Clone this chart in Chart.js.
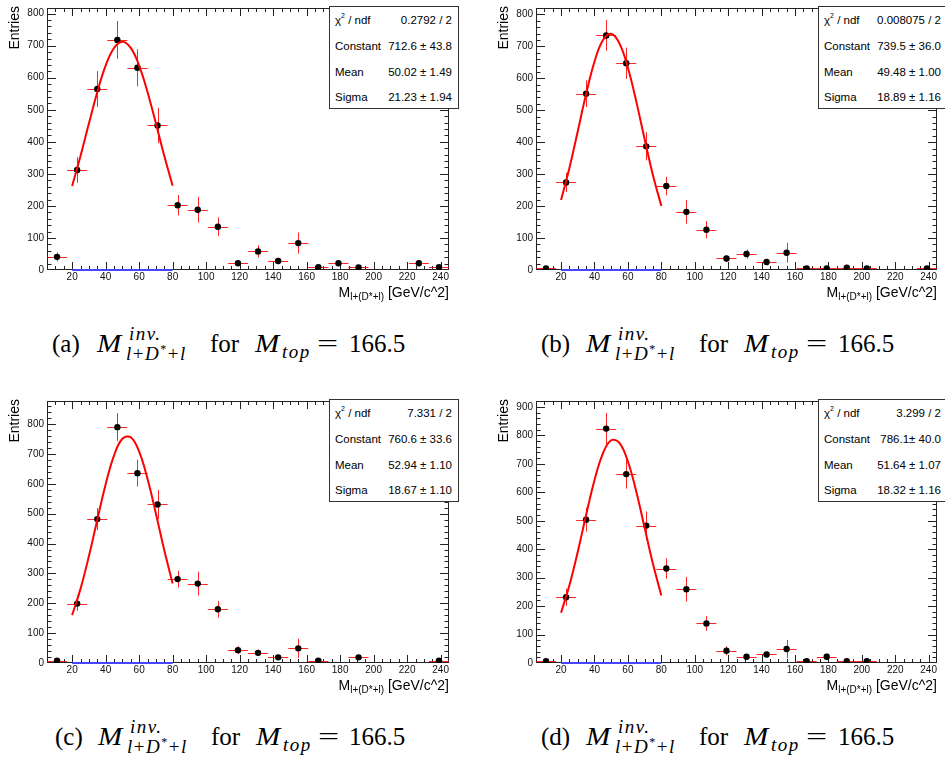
<!DOCTYPE html>
<html><head><meta charset="utf-8">
<script src="https://cdn.jsdelivr.net/npm/chart.js@4/dist/chart.umd.min.js"></script>
<style>
html,body{margin:0;padding:0;background:#fff;}
body{width:945px;height:762px;overflow:hidden;position:relative;font-family:"Liberation Sans",Arial,sans-serif;color:#000;}
canvas.panel{position:absolute;}
.stats{position:absolute;background:#fff;border:1px solid #333;box-sizing:border-box;width:130px;height:103px;font-size:11.5px;}
.row{position:absolute;left:5px;right:6px;height:14px;line-height:14px;display:flex;justify-content:space-between;white-space:nowrap;}
.row sup{font-size:7px;position:relative;top:-1px;vertical-align:top;line-height:7px;}
.ytitle{position:absolute;width:60px;height:16px;line-height:16px;font-size:14px;text-align:right;transform-origin:0 0;transform:rotate(-90deg);white-space:nowrap;}
.xtitle{position:absolute;width:449px;height:16px;line-height:16px;font-size:14px;text-align:right;white-space:nowrap;}
.xtitle .sb{font-size:10px;position:relative;top:3px;}
.cap{position:absolute;width:380px;height:40px;font-family:"Liberation Serif","DejaVu Serif",serif;white-space:nowrap;}
.cap span{position:absolute;}
.cap .m{font-size:25px;line-height:30px;}
.cap .s{font-size:19px;line-height:20px;letter-spacing:1.5px;}
.cap .s sup{font-size:12px;position:relative;top:-1px;vertical-align:top;line-height:12px;}
.cap .bigM{display:inline-block;font-size:26px;transform:scaleX(1.12);transform-origin:0 0;}
.cap .eq{display:inline-block;transform:scaleX(1.5);transform-origin:0 0;}
</style>
</head>
<body>
<canvas id="cA" class="panel" width="460" height="290" style="left:0;top:0"></canvas>
<canvas id="cB" class="panel" width="456" height="290" style="left:489px;top:0"></canvas>
<canvas id="cC" class="panel" width="460" height="290" style="left:0;top:393px"></canvas>
<canvas id="cD" class="panel" width="456" height="290" style="left:489px;top:393px"></canvas>

<div class="ytitle" style="left:6px;top:66px">Entries</div>
<div class="ytitle" style="left:495px;top:66px">Entries</div>
<div class="ytitle" style="left:6px;top:459px">Entries</div>
<div class="ytitle" style="left:495px;top:459px">Entries</div>

<div class="xtitle" style="left:0;top:284px">M<span class="sb">l+(D*+l)</span> [GeV/c^2]</div>
<div class="xtitle" style="left:488px;top:284px">M<span class="sb">l+(D*+l)</span> [GeV/c^2]</div>
<div class="xtitle" style="left:0;top:677px">M<span class="sb">l+(D*+l)</span> [GeV/c^2]</div>
<div class="xtitle" style="left:488px;top:677px">M<span class="sb">l+(D*+l)</span> [GeV/c^2]</div>

<div id="sA" class="stats" style="left:329px;top:6px"></div>
<div id="sB" class="stats" style="left:818px;top:6px"></div>
<div id="sC" class="stats" style="left:329px;top:399px"></div>
<div id="sD" class="stats" style="left:818px;top:399px"></div>

<div class="cap" style="left:52px;top:313px"><span class="m" style="left:0;top:16px">(a)</span><span class="m" style="left:45px;top:16px"><i class="bigM">M</i></span><span class="s" style="left:77px;top:11px"><i>inv.</i></span><span class="s" style="left:74px;top:31px"><i>l</i>+<i>D</i><sup>*</sup>+<i>l</i></span><span class="m" style="left:158px;top:16px">for</span><span class="m" style="left:203px;top:16px"><i class="bigM">M</i></span><span class="s" style="left:230px;top:29px"><i>top</i></span><span class="m" style="left:265px;top:16px"><span class="eq" style="position:static">=</span></span><span class="m" style="left:297px;top:16px">166.5</span></div>
<div class="cap" style="left:541px;top:313px"><span class="m" style="left:0;top:16px">(b)</span><span class="m" style="left:45px;top:16px"><i class="bigM">M</i></span><span class="s" style="left:77px;top:11px"><i>inv.</i></span><span class="s" style="left:74px;top:31px"><i>l</i>+<i>D</i><sup>*</sup>+<i>l</i></span><span class="m" style="left:158px;top:16px">for</span><span class="m" style="left:203px;top:16px"><i class="bigM">M</i></span><span class="s" style="left:230px;top:29px"><i>top</i></span><span class="m" style="left:265px;top:16px"><span class="eq" style="position:static">=</span></span><span class="m" style="left:297px;top:16px">166.5</span></div>
<div class="cap" style="left:55px;top:706px"><span class="m" style="left:0;top:16px">(c)</span><span class="m" style="left:43px;top:16px"><i class="bigM">M</i></span><span class="s" style="left:75px;top:11px"><i>inv.</i></span><span class="s" style="left:72px;top:31px"><i>l</i>+<i>D</i><sup>*</sup>+<i>l</i></span><span class="m" style="left:156px;top:16px">for</span><span class="m" style="left:201px;top:16px"><i class="bigM">M</i></span><span class="s" style="left:228px;top:29px"><i>top</i></span><span class="m" style="left:263px;top:16px"><span class="eq" style="position:static">=</span></span><span class="m" style="left:294px;top:16px">166.5</span></div>
<div class="cap" style="left:541px;top:706px"><span class="m" style="left:0;top:16px">(d)</span><span class="m" style="left:45px;top:16px"><i class="bigM">M</i></span><span class="s" style="left:77px;top:11px"><i>inv.</i></span><span class="s" style="left:74px;top:31px"><i>l</i>+<i>D</i><sup>*</sup>+<i>l</i></span><span class="m" style="left:158px;top:16px">for</span><span class="m" style="left:203px;top:16px"><i class="bigM">M</i></span><span class="s" style="left:230px;top:29px"><i>top</i></span><span class="m" style="left:265px;top:16px"><span class="eq" style="position:static">=</span></span><span class="m" style="left:297px;top:16px">166.5</span></div>

<script>
// ---- data ----
const binCenters = [11,23,35,47,59,71,83,95,107,119,131,143,155,167,179,191,203,215,227,239];
const binWidth = 12;

const countsA = [41,312,565,718,631,451,202,188,135,21,58,28,84,9,21,8,null,null,21,9];
const errorsA = [14,40,56,59,58,55,32,40,29,9,19,10,33,5,9,4,null,null,9,5];

const countsB = [5,274,552,734,647,387,263,182,126,36,50,25,54,5,5,7,5,null,null,5];
const errorsB = [3,30,42,48,49,44,29,37,27,11,14,10,31,3,3,4,3,null,null,3];

const countsC = [8,199,482,790,636,531,281,266,180,43,34,19,49,8,null,19,null,null,null,8];
const errorsC = [4,24,37,47,45,49,28,40,28,13,11,8,32,4,null,6,null,null,null,4];

const countsD = [6,231,504,824,664,483,332,259,139,43,22,30,49,6,22,6,6,null,null,null];
const errorsD = [4,30,42,55,51,50,36,43,26,16,8,11,32,4,12,4,4,null,null,null];

// Gaussian fit curves (read at these x positions)
const fitX = [20,25,30,35,40,45,50,55,60,65,70,75,80];
const fitA = [262.2,355.8,456.9,554.8,637.5,692.9,712.6,693.3,638.1,555.5,457.6,356.6,263.0];
const fitB = [218.8,319.3,434.5,551.2,652.0,719.0,739.2,708.6,633.2,527.7,409.9,296.9,200.5];
const fitC = [160.4,248.3,357.5,479.3,598.2,694.8,751.2,756.0,708.1,617.4,501.0,378.4,266.1];
const fitD = [176.9,273.1,391.2,520.4,642.4,736.1,783.0,773.0,708.4,602.6,475.8,348.6,237.2];

// axes
const xRange = [5,245];
const xTicks = [20,40,60,80,100,120,140,160,180,200,220,240];
const yTicksAB = [0,100,200,300,400,500,600,700,800];
const yTicksC = [0,100,200,300,400,500,600,700,800];
const yTicksD = [0,100,200,300,400,500,600,700,800,900];
const yMaxA = 817.6, yMaxB = 820, yMaxC = 877.6, yMaxD = 921;

// stats boxes
const statsA = ["0.2792 / 2","712.6 ± 43.8","50.02 ± 1.49","21.23 ± 1.94"];
const statsB = ["0.008075 / 2","739.5 ± 36.0","49.48 ± 1.00","18.89 ± 1.16"];
const statsC = ["7.331 / 2","760.6 ± 33.6","52.94 ± 1.10","18.67 ± 1.10"];
const statsD = ["3.299 / 2","786.1± 40.0","51.64 ± 1.07","18.32 ± 1.16"];
const statNames = ["χ<sup>2</sup> / ndf","Constant","Mean","Sigma"];

// ---- rendering ----
const rowTops = [6,32,57.5,83];
function fillStats(id, vals){
  const el = document.getElementById(id);
  el.innerHTML = statNames.map((n,i)=>`<div class="row" style="top:${rowTops[i]}px"><span>${n}</span><span>${vals[i]}</span></div>`).join('');
}
fillStats('sA',statsA); fillStats('sB',statsB); fillStats('sC',statsC); fillStats('sD',statsD);

const rootAxes = {
  id:'rootAxes',
  beforeDatasetsDraw(chart){
    const {ctx, chartArea:a, scales:{x,y}} = chart;
    const o = chart.options.plugins.rootAxes;
    ctx.save();
    ctx.strokeStyle = '#222'; ctx.lineWidth = 1;
    ctx.strokeRect(a.left+0.5, a.top+0.5, a.right-a.left-1, a.bottom-a.top-1);
    ctx.beginPath();
    for(let v=xRange[0]+5; v<xRange[1]; v+=5){
      const major = xTicks.includes(v);
      const L = major ? 8 : 4;
      const px = Math.round(x.getPixelForValue(v))+0.5;
      ctx.moveTo(px,a.bottom); ctx.lineTo(px,a.bottom-L);
      ctx.moveTo(px,a.top); ctx.lineTo(px,a.top+L);
    }
    for(let v=20; v<y.max; v+=20){
      const major = o.yTicks.includes(v);
      const L = major ? 9 : 4.5;
      const py = Math.round(y.getPixelForValue(v))+0.5;
      ctx.moveTo(a.left,py); ctx.lineTo(a.left+L,py);
      ctx.moveTo(a.right,py); ctx.lineTo(a.right-L,py);
    }
    ctx.stroke();
    ctx.beginPath();
    ctx.rect(a.left,a.top-2,a.right-a.left,a.bottom-a.top+2);
    ctx.clip();
    ctx.strokeStyle = 'rgba(255,0,0,0.85)';
    ctx.lineWidth = 1;
    ctx.beginPath();
    const pts = chart.data.datasets[2].data;
    pts.forEach(p=>{
      const px = Math.round(x.getPixelForValue(p.x))+0.5;
      const py = Math.round(y.getPixelForValue(p.y))+0.5;
      ctx.moveTo(px, y.getPixelForValue(p.y - p.e));
      ctx.lineTo(px, y.getPixelForValue(p.y + p.e));
      ctx.moveTo(x.getPixelForValue(p.x - binWidth/2), py);
      ctx.lineTo(x.getPixelForValue(p.x + binWidth/2), py);
    });
    ctx.stroke();
    ctx.restore();
  }
};

function makePanel(id, counts, errors, fit, yMax, yTicks){
  const points = [];
  binCenters.forEach((c,i)=>{ if(counts[i]!==null) points.push({x:c, y:counts[i], e:errors[i]}); });
  const tickFont = {family:'"Liberation Sans", Arial, sans-serif', size:10, lineHeight:1};
  new Chart(document.getElementById(id), {
    type:'scatter',
    data:{datasets:[
      {type:'line', data: fitX.map((v,i)=>({x:v,y:fit[i]})), borderColor:'#ff0000', borderWidth:2, pointRadius:0, tension:0.4, fill:false},
      {type:'line', data: [{x:fitX[0],y:0},{x:fitX[fitX.length-1],y:0}], borderColor:'#4646ff', borderWidth:2, pointRadius:0, clip:false, fill:false},
      {type:'scatter', data: points, pointRadius:3.2, pointHoverRadius:3.2, pointBackgroundColor:'#000', pointBorderColor:'#000', pointBorderWidth:0}
    ]},
    options:{
      responsive:false, animation:false, devicePixelRatio:1,
      layout:{padding:{top:6, right: (id==='cB'||id==='cD') ? 8 : 11, left:0, bottom:0}},
      plugins:{legend:{display:false}, tooltip:{enabled:false}, rootAxes:{yTicks}},
      events:[],
      scales:{
        x:{type:'linear', min:xRange[0], max:xRange[1],
           grid:{display:false, drawTicks:false}, border:{display:false},
           ticks:{font:tickFont, color:'#111', padding:2, maxRotation:0, autoSkip:false},
           afterBuildTicks:s=>{ s.ticks = xTicks.map(v=>({value:v})); },
           afterFit:s=>{ s.height = 20; }},
        y:{type:'linear', min:0, max:yMax,
           grid:{display:false, drawTicks:false}, border:{display:false},
           ticks:{font:tickFont, color:'#111', padding:3, autoSkip:false},
           afterBuildTicks:s=>{ s.ticks = yTicks.map(v=>({value:v})); },
           afterFit:s=>{ s.width = 47; }}
      }
    },
    plugins:[rootAxes]
  });
}
makePanel('cA', countsA, errorsA, fitA, yMaxA, yTicksAB);
makePanel('cB', countsB, errorsB, fitB, yMaxB, yTicksAB);
makePanel('cC', countsC, errorsC, fitC, yMaxC, yTicksC);
makePanel('cD', countsD, errorsD, fitD, yMaxD, yTicksD);
</script>
</body></html>
